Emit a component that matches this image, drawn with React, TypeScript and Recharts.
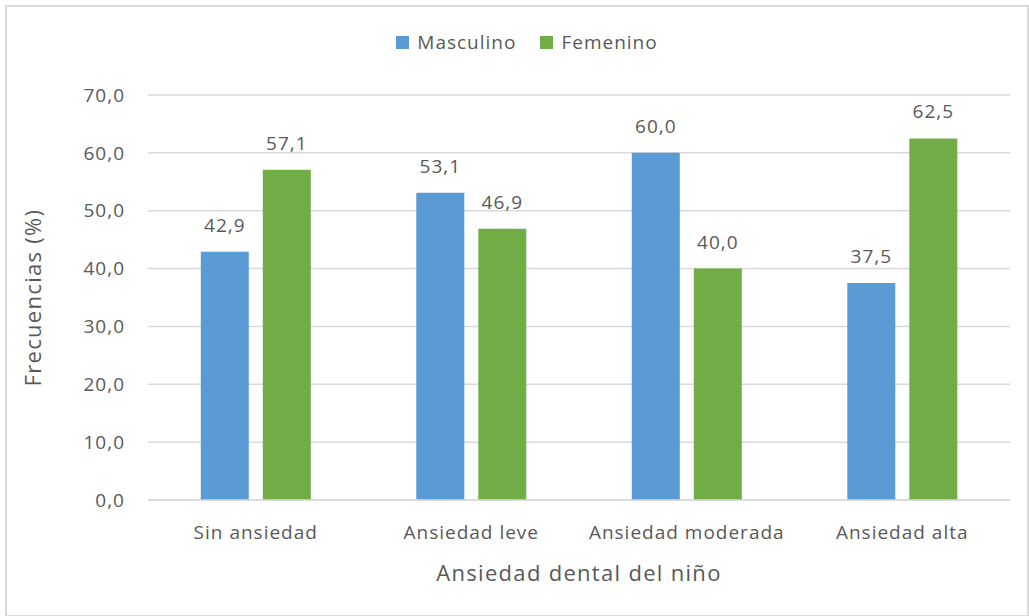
import React from 'react';
import { BarChart, Bar, XAxis, YAxis, CartesianGrid, Legend, LabelList } from 'recharts';

const categories = ['Sin ansiedad', 'Ansiedad leve', 'Ansiedad moderada', 'Ansiedad alta'];
const masculino = [42.9, 53.1, 60.0, 37.5];
const femenino = [57.1, 46.9, 40.0, 62.5];
const yTicks = [0, 10, 20, 30, 40, 50, 60, 70];

const data = categories.map((c, i) => ({ name: c, masculino: masculino[i], femenino: femenino[i] }));

const FONT = '"Open Sans", "Noto Sans", sans-serif';
const TEXT = '#595959';
const BLUE = '#5B9BD5';
const GREEN = '#70AD47';

const fmt = (v: unknown) => (typeof v === 'number' ? v.toFixed(1).replace('.', ',') : String(v));

const small = { fontSize: 19, fill: TEXT, fontFamily: FONT, letterSpacing: 1 };

function LegendBox() {
  const items = [
    { label: 'Masculino', color: BLUE },
    { label: 'Femenino', color: GREEN },
  ];
  return (
    <div
      style={{
        display: 'flex',
        justifyContent: 'center',
        gap: 24,
        fontFamily: FONT,
        fontSize: 19,
        letterSpacing: 1,
        color: TEXT,
        lineHeight: '20px',
      }}
    >
      {items.map((it) => (
        <div key={it.label} style={{ display: 'flex', alignItems: 'center' }}>
          <span style={{ width: 13, height: 13, background: it.color, display: 'inline-block', marginRight: 8 }} />
          {it.label}
        </div>
      ))}
    </div>
  );
}

export default function App() {
  return (
    <div style={{ position: 'absolute', left: 0, top: 0, width: 1029, height: 616, background: '#fff' }}>
      <div
        style={{
          position: 'absolute',
          left: 5,
          top: 5,
          width: 1020,
          height: 608,
          border: '2px solid #d9d9d9',
        }}
      />
      <BarChart
        width={1029}
        height={616}
        data={data}
        margin={{ top: 75, right: 19, bottom: 0, left: 0 }}
        barCategoryGap="24.5%"
        barGap={14}
        style={{ position: 'absolute', left: 0, top: 0 }}
      >
        <CartesianGrid stroke="#d9d9d9" strokeWidth={1.5} vertical={false} />
        <XAxis
          dataKey="name"
          tick={small}
          tickLine={false}
          axisLine={{ stroke: '#d9d9d9', strokeWidth: 1.5 }}
          tickMargin={20}
          height={116}
          label={{
            value: 'Ansiedad dental del niño',
            position: 'insideBottom',
            offset: 35,
            fontSize: 22,
            fill: TEXT,
            fontFamily: FONT,
            letterSpacing: 1.3,
          }}
        />
        <YAxis
          domain={[0, 70]}
          ticks={yTicks}
          tickFormatter={fmt}
          tick={small}
          tickLine={false}
          axisLine={false}
          width={148}
          tickMargin={17}
          label={{
            value: 'Frecuencias (%)',
            angle: -90,
            position: 'center',
            dx: -41,
            fontSize: 22,
            fill: TEXT,
            fontFamily: FONT,
            letterSpacing: 1.3,
          }}
        />
        <Legend
          verticalAlign="top"
          content={() => <LegendBox />}
          wrapperStyle={{ top: 32, left: 0, width: 1054 }}
        />
        <Bar dataKey="masculino" name="Masculino" fill={BLUE} isAnimationActive={false}>
          <LabelList dataKey="masculino" position="top" offset={20} formatter={fmt} style={small} />
        </Bar>
        <Bar dataKey="femenino" name="Femenino" fill={GREEN} isAnimationActive={false}>
          <LabelList dataKey="femenino" position="top" offset={20} formatter={fmt} style={small} />
        </Bar>
      </BarChart>
    </div>
  );
}
